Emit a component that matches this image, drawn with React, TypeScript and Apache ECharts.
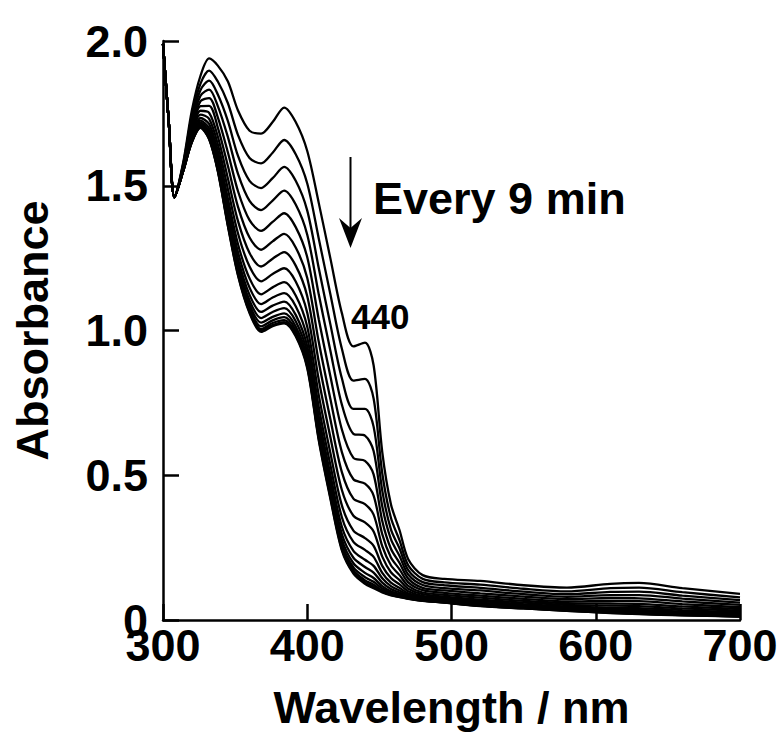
import React, { useEffect, useRef } from "react";
import * as echarts from "echarts";

// Wavelength grid (nm)
const wavelengths = [300, 304, 308, 314, 320, 326, 332, 338, 345, 352, 360, 368, 376, 384, 392, 400, 408, 416, 424, 432, 440, 446, 452, 458, 464, 470, 480, 495, 520, 550, 580, 610, 630, 660, 700];

// Absorbance spectra, first scan (top) to last scan (bottom), every 9 min
const scan01 = [1.99, 1.72, 1.46, 1.58, 1.76, 1.88, 1.94, 1.915, 1.86, 1.76, 1.69, 1.68, 1.72, 1.77, 1.72, 1.62, 1.44, 1.25, 1.06, 0.945, 0.958, 0.88, 0.58, 0.40, 0.31, 0.21, 0.155, 0.142, 0.135, 0.12, 0.112, 0.125, 0.128, 0.11, 0.09];
const scan02 = [1.99, 1.72, 1.46, 1.575, 1.744, 1.853, 1.898, 1.86, 1.785, 1.675, 1.596, 1.577, 1.614, 1.658, 1.609, 1.508, 1.317, 1.126, 0.937, 0.827, 0.833, 0.765, 0.507, 0.353, 0.275, 0.189, 0.142, 0.13, 0.122, 0.108, 0.099, 0.11, 0.112, 0.096, 0.078];
const scan03 = [1.99, 1.72, 1.46, 1.572, 1.73, 1.831, 1.863, 1.815, 1.723, 1.603, 1.517, 1.492, 1.526, 1.565, 1.517, 1.414, 1.215, 1.022, 0.835, 0.729, 0.729, 0.668, 0.447, 0.313, 0.247, 0.172, 0.131, 0.12, 0.111, 0.098, 0.089, 0.097, 0.098, 0.084, 0.069];
const scan04 = [1.99, 1.72, 1.46, 1.568, 1.718, 1.811, 1.832, 1.775, 1.668, 1.541, 1.448, 1.416, 1.449, 1.483, 1.435, 1.331, 1.124, 0.931, 0.744, 0.643, 0.637, 0.584, 0.393, 0.279, 0.221, 0.157, 0.121, 0.11, 0.102, 0.089, 0.08, 0.086, 0.086, 0.074, 0.06];
const scan05 = [1.99, 1.72, 1.46, 1.565, 1.706, 1.792, 1.803, 1.736, 1.615, 1.481, 1.381, 1.344, 1.375, 1.405, 1.357, 1.253, 1.038, 0.843, 0.658, 0.56, 0.55, 0.503, 0.342, 0.246, 0.197, 0.143, 0.111, 0.102, 0.092, 0.081, 0.072, 0.076, 0.075, 0.064, 0.052];
const scan06 = [1.99, 1.72, 1.46, 1.562, 1.696, 1.775, 1.776, 1.701, 1.568, 1.427, 1.321, 1.279, 1.308, 1.334, 1.287, 1.181, 0.96, 0.764, 0.58, 0.486, 0.471, 0.43, 0.296, 0.216, 0.175, 0.13, 0.103, 0.094, 0.084, 0.073, 0.064, 0.066, 0.065, 0.055, 0.044];
const scan07 = [1.99, 1.72, 1.46, 1.56, 1.686, 1.759, 1.752, 1.67, 1.525, 1.378, 1.268, 1.221, 1.248, 1.271, 1.224, 1.118, 0.891, 0.694, 0.511, 0.419, 0.4, 0.364, 0.255, 0.189, 0.155, 0.118, 0.095, 0.087, 0.077, 0.066, 0.058, 0.057, 0.056, 0.047, 0.038];
const scan08 = [1.99, 1.72, 1.46, 1.558, 1.678, 1.746, 1.731, 1.643, 1.488, 1.335, 1.221, 1.17, 1.195, 1.215, 1.169, 1.061, 0.829, 0.632, 0.449, 0.36, 0.337, 0.306, 0.219, 0.165, 0.138, 0.108, 0.089, 0.081, 0.07, 0.06, 0.052, 0.05, 0.048, 0.04, 0.032];
const scan09 = [1.99, 1.72, 1.46, 1.556, 1.671, 1.734, 1.713, 1.619, 1.455, 1.298, 1.18, 1.125, 1.149, 1.167, 1.121, 1.013, 0.776, 0.578, 0.396, 0.309, 0.283, 0.256, 0.187, 0.145, 0.123, 0.099, 0.083, 0.076, 0.065, 0.055, 0.047, 0.043, 0.041, 0.034, 0.027];
const scan10 = [1.99, 1.72, 1.46, 1.554, 1.665, 1.725, 1.699, 1.601, 1.43, 1.27, 1.148, 1.091, 1.114, 1.129, 1.084, 0.975, 0.735, 0.536, 0.355, 0.27, 0.242, 0.218, 0.163, 0.129, 0.111, 0.092, 0.079, 0.072, 0.06, 0.051, 0.043, 0.038, 0.035, 0.029, 0.023];
const scan11 = [1.99, 1.72, 1.46, 1.553, 1.661, 1.718, 1.688, 1.587, 1.41, 1.247, 1.123, 1.064, 1.086, 1.1, 1.054, 0.945, 0.702, 0.503, 0.322, 0.239, 0.208, 0.187, 0.144, 0.117, 0.102, 0.087, 0.075, 0.068, 0.057, 0.048, 0.04, 0.034, 0.031, 0.025, 0.02];
const scan12 = [1.99, 1.72, 1.46, 1.552, 1.658, 1.713, 1.68, 1.576, 1.395, 1.23, 1.104, 1.043, 1.064, 1.077, 1.032, 0.923, 0.677, 0.478, 0.297, 0.215, 0.183, 0.164, 0.129, 0.107, 0.095, 0.083, 0.072, 0.066, 0.054, 0.046, 0.037, 0.031, 0.028, 0.023, 0.017];
const scan13 = [1.99, 1.72, 1.46, 1.551, 1.655, 1.708, 1.673, 1.567, 1.383, 1.216, 1.089, 1.027, 1.047, 1.059, 1.014, 0.905, 0.658, 0.458, 0.278, 0.196, 0.163, 0.145, 0.117, 0.099, 0.09, 0.079, 0.07, 0.064, 0.052, 0.044, 0.036, 0.029, 0.025, 0.02, 0.016];
const scan14 = [1.99, 1.72, 1.46, 1.551, 1.653, 1.705, 1.668, 1.56, 1.374, 1.206, 1.078, 1.014, 1.035, 1.046, 1.001, 0.891, 0.643, 0.443, 0.263, 0.182, 0.148, 0.132, 0.109, 0.094, 0.085, 0.077, 0.068, 0.062, 0.05, 0.042, 0.034, 0.027, 0.023, 0.019, 0.014];
const scan15 = [1.99, 1.72, 1.46, 1.55, 1.652, 1.703, 1.664, 1.555, 1.368, 1.199, 1.069, 1.005, 1.026, 1.036, 0.991, 0.881, 0.632, 0.432, 0.252, 0.172, 0.137, 0.122, 0.102, 0.09, 0.082, 0.075, 0.067, 0.061, 0.049, 0.041, 0.033, 0.026, 0.022, 0.017, 0.013];
const scan16 = [1.99, 1.72, 1.46, 1.55, 1.651, 1.701, 1.662, 1.552, 1.363, 1.193, 1.064, 0.999, 1.019, 1.029, 0.984, 0.875, 0.625, 0.425, 0.245, 0.165, 0.13, 0.115, 0.098, 0.087, 0.08, 0.074, 0.067, 0.06, 0.049, 0.04, 0.032, 0.025, 0.021, 0.017, 0.012];
const scan17 = [1.99, 1.72, 1.46, 1.55, 1.65, 1.70, 1.66, 1.55, 1.36, 1.19, 1.06, 0.995, 1.015, 1.025, 0.98, 0.87, 0.62, 0.42, 0.24, 0.16, 0.125, 0.11, 0.095, 0.085, 0.079, 0.073, 0.066, 0.06, 0.048, 0.04, 0.032, 0.024, 0.02, 0.016, 0.012];

const scans = [scan01, scan02, scan03, scan04, scan05, scan06, scan07, scan08, scan09, scan10, scan11, scan12, scan13, scan14, scan15, scan16, scan17];

const xTitle = "Wavelength / nm";
const yTitle = "Absorbance";
const annotationText = "Every 9 min";
const peakLabel = "440";

const FONT = "'Liberation Sans', Arial, Helvetica, sans-serif";

export default function App() {
  const ref = useRef<HTMLDivElement>(null);
  useEffect(() => {
    const chart = echarts.init(ref.current as HTMLDivElement, null, { renderer: "svg" });
    chart.setOption({
      animation: false,
      backgroundColor: "#ffffff",
      grid: { left: 163, right: 42, top: 41, bottom: 118, containLabel: false },
      xAxis: {
        type: "value",
        min: 300,
        max: 700,
        interval: 100,
        name: xTitle,
        nameLocation: "middle",
        nameGap: 65,
        nameTextStyle: { fontFamily: FONT, fontWeight: "bold", fontSize: 45, color: "#000" },
        axisLine: { show: true, onZero: false, lineStyle: { color: "#000", width: 2.5 } },
        axisTick: { show: true, inside: true, length: 16, lineStyle: { color: "#000", width: 2.5 } },
        axisLabel: { fontFamily: FONT, fontWeight: "bold", fontSize: 45, color: "#000", margin: 6, lineHeight: 38 },
        splitLine: { show: false },
      },
      yAxis: {
        type: "value",
        min: 0,
        max: 2,
        interval: 0.5,
        name: yTitle,
        nameLocation: "middle",
        nameRotate: 90,
        nameGap: 108,
        nameTextStyle: { fontFamily: FONT, fontWeight: "bold", fontSize: 45, color: "#000" },
        axisLine: { show: true, onZero: false, lineStyle: { color: "#000", width: 2.5 } },
        axisTick: { show: true, inside: true, length: 16, lineStyle: { color: "#000", width: 2.5 } },
        axisLabel: {
          fontFamily: FONT,
          fontWeight: "bold",
          fontSize: 45,
          color: "#000",
          margin: 15,
          lineHeight: 36,
          formatter: (v: number) => (v === 0 ? "0" : v.toFixed(1)),
        },
        splitLine: { show: false },
      },
      series: scans.map((s, i) => ({
        type: "line",
        name: `scan ${i + 1}`,
        data: wavelengths.map((w, j) => [w, s[j]]),
        symbol: "none",
        showSymbol: false,
        smooth: 0.3,
        clip: true,
        lineStyle: { color: "#000", width: 2.3 },
      })),
      graphic: [
        {
          type: "line",
          shape: { x1: 350.5, y1: 157, x2: 350.5, y2: 232 },
          style: { stroke: "#000", lineWidth: 2 },
        },
        {
          type: "polygon",
          shape: { points: [[339, 218], [350.5, 248], [362, 218], [350.5, 228]] },
          style: { fill: "#000" },
        },
        {
          type: "text",
          x: 373,
          y: 198,
          style: {
            text: annotationText,
            fontFamily: FONT,
            fontWeight: "bold",
            fontSize: 45,
            fill: "#000",
            align: "left",
            verticalAlign: "middle",
          },
        },
        {
          type: "text",
          x: 351,
          y: 316,
          style: {
            text: peakLabel,
            fontFamily: FONT,
            fontWeight: "bold",
            fontSize: 35,
            fill: "#000",
            align: "left",
            verticalAlign: "middle",
          },
        },
      ],
    });
    return () => chart.dispose();
  }, []);
  return <div ref={ref} style={{ position: "fixed", left: 0, top: 0, width: 782, height: 738, background: "#fff" }} />;
}
